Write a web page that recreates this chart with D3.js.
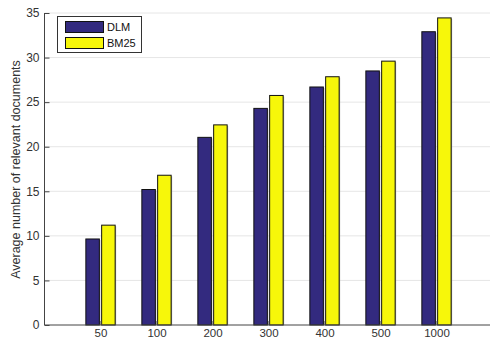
<!DOCTYPE html>
<html><head><meta charset="utf-8">
<script src="https://cdn.jsdelivr.net/npm/d3@7/dist/d3.min.js"></script>
<style>body{margin:0;background:#fff;}svg{display:block;font-family:"Liberation Sans",Arial,sans-serif;}</style>
</head><body>
<script>
const categories = ["50","100","200","300","400","500","1000"];
const seriesNames = ["DLM","BM25"];
const dlm  = [9.65, 15.2, 21.05, 24.3, 26.7, 28.5, 32.9];
const bm25 = [11.2, 16.8, 22.45, 25.75, 27.85, 29.6, 34.45];
const yTicks = [0,5,10,15,20,25,30,35];
const colors = ["#332a7f","#f7f70a"];

(function(){
const W=490,H=341;
const svg=d3.select("body").append("svg").attr("width",W).attr("height",H);
const mLeft=44.5, mTop=13, mBottom=325;
const y=d3.scaleLinear().domain([0,35]).range([mBottom,mTop]);
const x=d3.scaleLinear().domain([0,8]).range([mLeft,mLeft+448]);
const off=7.9, bw=13.5;

// grid
svg.append("g").selectAll("line").data(yTicks.filter(d=>d>0)).join("line")
  .attr("x1",mLeft).attr("x2",W).attr("y1",d=>y(d)).attr("y2",d=>y(d))
  .attr("stroke","#e6e6e6").attr("stroke-width",1);

const series=[dlm,bm25];
series.forEach((vals,si)=>{
  const g=svg.append("g");
  g.selectAll("rect.s").data(vals).join("rect").attr("class","s")
    .attr("x",(d,i)=>x(i+1)+(si===0?-off-bw/2:off-bw/2)+1)
    .attr("y",d=>y(d)+1).attr("width",bw).attr("height",d=>mBottom-y(d)-1)
    .attr("fill","#b0b0b0");
  g.selectAll("rect.b").data(vals).join("rect").attr("class","b")
    .attr("x",(d,i)=>x(i+1)+(si===0?-off-bw/2:off-bw/2))
    .attr("y",d=>y(d)).attr("width",bw).attr("height",d=>mBottom-y(d))
    .attr("fill",colors[si]).attr("stroke","#111").attr("stroke-width",1);
});

// y axis
const ya=svg.append("g").attr("transform",`translate(${mLeft},0)`)
  .call(d3.axisLeft(y).tickValues(yTicks).tickSize(-5).tickPadding(5));
ya.select(".domain").attr("stroke","#444").attr("d",`M0,${mBottom}V${mTop}`);
ya.selectAll(".tick line").attr("stroke","#444");
ya.selectAll("text").attr("fill","#333").attr("font-size",12).attr("font-family","Liberation Sans, Arial, sans-serif");

// x axis
const xa=svg.append("g").attr("transform",`translate(0,${mBottom})`)
  .call(d3.axisBottom(x).tickValues(d3.range(1,8)).tickFormat((d)=>categories[d-1]).tickSize(-4).tickPadding(4));
xa.select(".domain").attr("stroke","#444").attr("d",`M${mLeft},0H${W}`);
xa.selectAll(".tick line").attr("stroke","#444");
xa.selectAll("text").attr("fill","#333").attr("font-size",11.5).attr("font-family","Liberation Sans, Arial, sans-serif");

// y label
svg.append("text").attr("transform","translate(20,169.5) rotate(-90)")
  .attr("text-anchor","middle").attr("font-size",12.5).attr("fill","#333")
  .text("Average number of relevant documents");

// legend
const lg=svg.append("g");
lg.append("rect").attr("x",57.5).attr("y",16.5).attr("width",84).attr("height",36)
  .attr("fill","#fff").attr("stroke","#333").attr("stroke-width",1);
seriesNames.forEach((n,i)=>{
  lg.append("rect").attr("x",65.5).attr("y",21.5+i*16).attr("width",38).attr("height",11)
    .attr("fill",colors[i]).attr("stroke","#111");
  lg.append("text").attr("x",107).attr("y",31+i*16).attr("font-size",11).attr("fill","#111").text(n);
});
})();
</script>
</body></html>
